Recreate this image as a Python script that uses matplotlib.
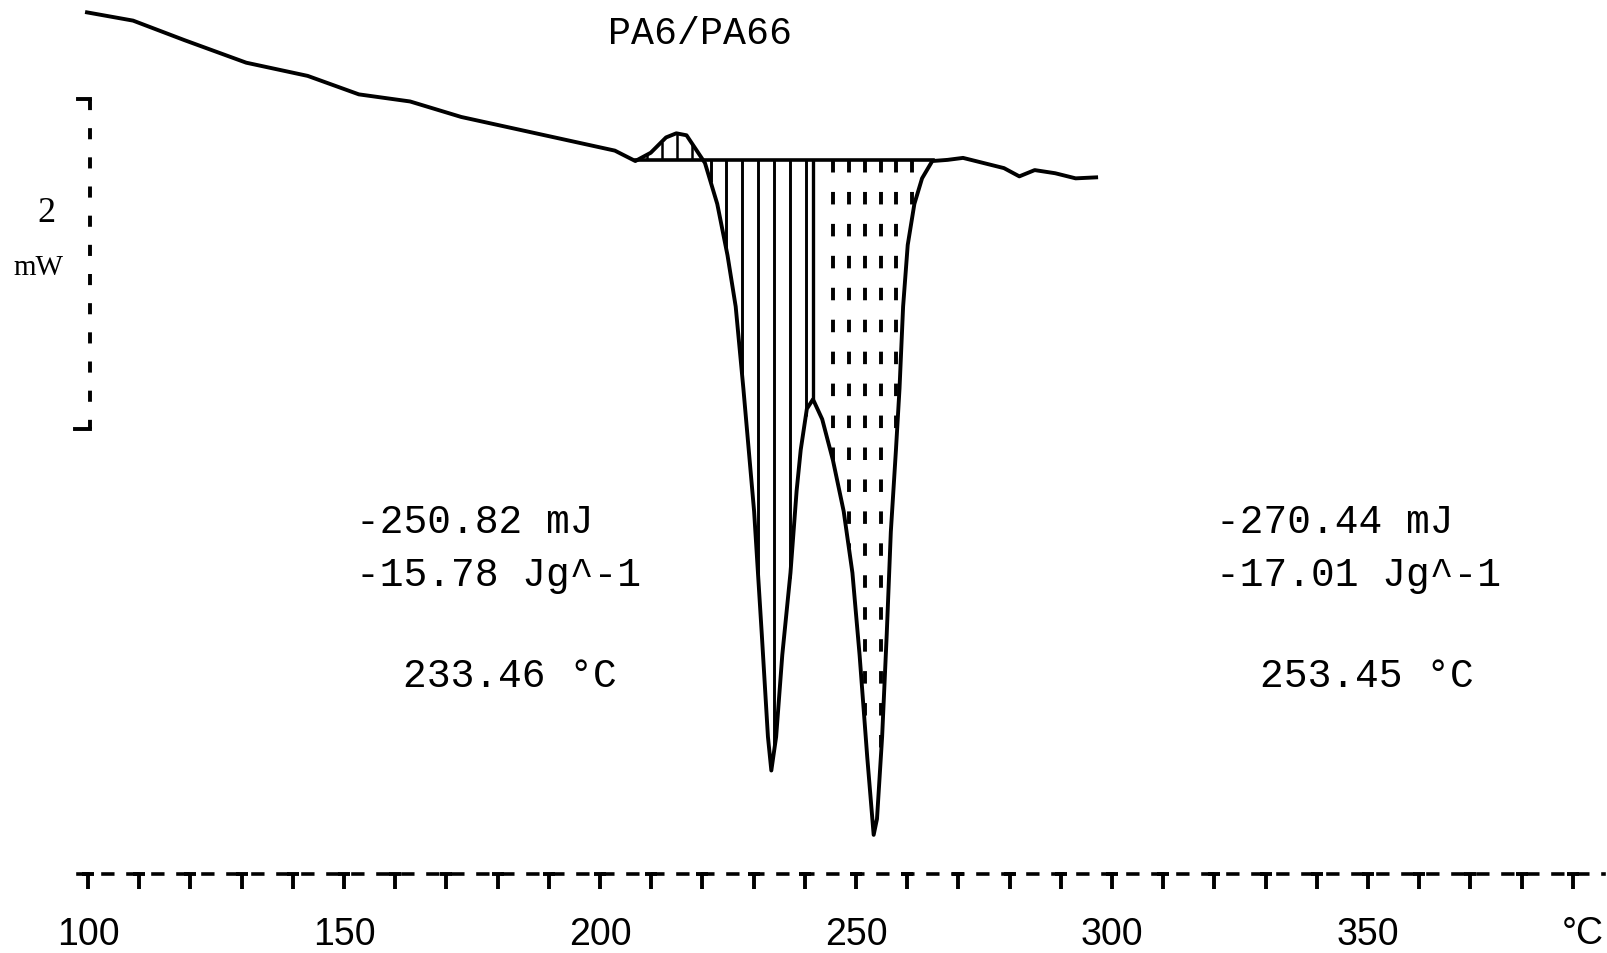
import numpy as np
import matplotlib
matplotlib.use("Agg")
import matplotlib.pyplot as plt

# DSC heating scan of the PA6/PA66 blend (temperature in °C, heat flow in mW)
temp = [99.8, 108.8, 118.8, 130.9, 142.9, 152.9, 162.9, 172.9, 182.9, 192.9,
        202.9, 206.9, 209.9, 212.9, 214.9, 216.9, 218.9, 220.5, 222.9, 224.9,
        226.5, 228.0, 230.1, 231.6, 232.8, 233.46, 234.4, 235.6, 237.2, 238.4,
        239.2, 240.4, 241.6, 243.4, 245.5, 247.6, 249.3, 250.7, 252.2, 253.45,
        254.1, 255.1, 256.0, 256.8, 257.8, 258.5, 259.2, 260.1, 261.4, 262.9,
        264.9, 267.9, 270.9, 274.9, 278.9, 281.9, 284.9, 288.9, 292.9, 296.9]
heat_flow = [0.895, 0.845, 0.727, 0.590, 0.510, 0.398, 0.355, 0.261, 0.193, 0.125,
             0.057, -0.006, 0.044, 0.137, 0.162, 0.150, 0.057, -0.018, -0.266, -0.577,
             -0.888, -1.384, -2.130, -2.875, -3.496, -3.70, -3.496, -3.000, -2.502, -2.005,
             -1.757, -1.508, -1.45, -1.571, -1.820, -2.130, -2.502, -3.000, -3.621, -4.09,
             -3.993, -3.496, -2.875, -2.254, -1.757, -1.384, -0.888, -0.515, -0.266, -0.111,
             -0.006, 0.001, 0.013, -0.018, -0.049, -0.099, -0.061, -0.080, -0.111, -0.105]

# integration limits
baseline_range = [207.0, 265.0]
split_temp = 241.6          # partition between the two melting peaks

peak_labels = [
    ["-250.82 mJ", "-15.78 Jg^-1", "233.46 °C"],
    ["-270.44 mJ", "-17.01 Jg^-1", "253.45 °C"],
]
tick_temps = [100, 150, 200, 250, 300, 350]

plt.rcParams["lines.scale_dashes"] = False
mono = ["Liberation Mono", "DejaVu Sans Mono"]
serif = ["Liberation Serif", "DejaVu Serif"]
sans = ["Liberation Sans", "DejaVu Sans"]

T = np.array(temp)
Q = np.array(heat_flow)

fig = plt.figure(figsize=(16.07, 9.54), dpi=100)
ax = fig.add_axes([0, 0, 1, 1])
ax.set_xlim(82.81, 396.68)
ax.set_ylim(-4.806, 0.976)

# curve and integration baseline
ax.plot(T, Q, color="black", lw=2.8, solid_joinstyle="round")
ax.plot(baseline_range, [0, 0], color="black", lw=2.6)

# small exotherm hatching
small = np.arange(209.2, 219.0, 2.9)
ax.vlines(small, 0, np.interp(small, T, Q), color="black", lw=1.8)

# first peak: solid vertical hatching
first = np.arange(221.6, split_temp - 0.5, 3.1)
ax.vlines(first, 0, np.interp(first, T, Q), color="black", lw=2.1)
ax.vlines([split_temp], 0, np.interp(split_temp, T, Q), color="black", lw=2.4)

# second peak: dashed vertical hatching
second = np.arange(245.5, baseline_range[1] - 2.5, 3.1)
ax.vlines(second, 0, np.interp(second, T, Q), color="black", lw=2.8,
          linestyles=[(0, (9, 14))])

# peak annotations
for (x0, x1), lines in zip([(152.3, 161.5), (320.4, 329.0)], peak_labels):
    ax.text(x0, -2.19, lines[0], family=mono, fontsize=28.5, va="center", ha="left")
    ax.text(x0, -2.51, lines[1], family=mono, fontsize=28.5, va="center", ha="left")
    ax.text(x1, -3.12, lines[2], family=mono, fontsize=28.5, va="center", ha="left")

ax.text(219.5, 0.77, "PA6/PA66", family=mono, fontsize=27.5, ha="center", va="center")

# 2 mW scale bar
ax.plot([100.4, 100.4], [0.37, -1.63], color="black", lw=2.8,
        linestyle=(0, (8, 13)))
ax.plot([98.0, 100.4], [0.37, 0.37], color="black", lw=2.8)
ax.plot([97.5, 100.4], [-1.63, -1.63], color="black", lw=2.8)
ax.text(91.9, -0.32, "2", family=serif, fontsize=26, ha="center", va="center")
ax.text(90.4, -0.65, "mW", family=serif, fontsize=21, ha="center", va="center")

# temperature axis drawn as a dashed rule with hanging ticks
axis_y = -4.327
for side in ["left", "right", "top"]:
    ax.spines[side].set_visible(False)
ax.spines["bottom"].set_position(("data", axis_y))
ax.spines["bottom"].set_bounds(98, 396)
ax.spines["bottom"].set_linestyle((0, (7, 11)))
ax.spines["bottom"].set_linewidth(2.6)
ax.set_yticks([])
ax.set_xticks(tick_temps)
ax.set_xticks(np.arange(100, 391, 10), minor=True)
ax.set_xticklabels([str(t) for t in tick_temps], family=sans, fontsize=27)
ax.tick_params(axis="x", which="both", direction="out", length=10.5, width=2.8,
               color="black")
ax.tick_params(axis="x", which="major", pad=20)
minor = np.arange(100, 391, 10)
ax.plot(minor, np.full(len(minor), axis_y), ls="none", marker="_", ms=9, mew=2.8,
        color="black", clip_on=False)
ax.text(392.0, -4.685, "°C", family=sans, fontsize=27, ha="center", va="center")

fig.savefig("out.png", dpi=100, facecolor="white")
